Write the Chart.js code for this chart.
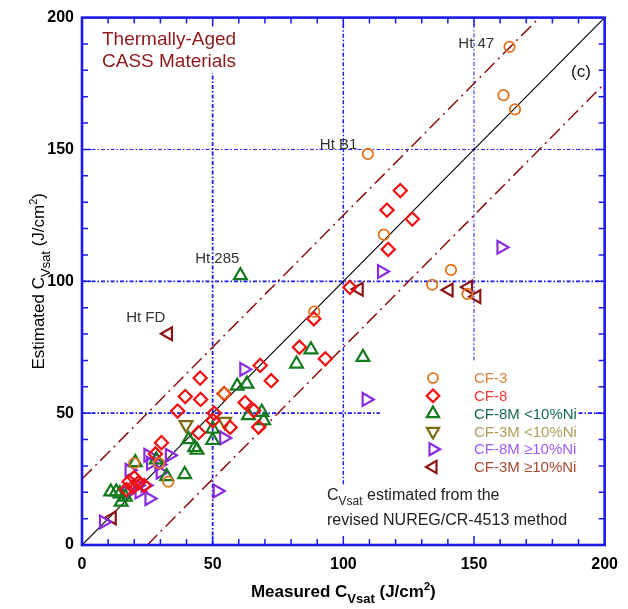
<!DOCTYPE html>
<html>
<head>
<meta charset="utf-8">
<script src="https://cdn.jsdelivr.net/npm/chart.js@4.4.1/dist/chart.umd.min.js"></script>
<style>
  html, body { margin: 0; padding: 0; background: #fff; }
  canvas { display: block; }
</style>
</head>
<body>
<canvas id="chart" width="628" height="609"></canvas>
<script>
// measured vs estimated Cv_sat (J/cm2)
const cf3 = [
  [163.6, 188.9], [161.3, 170.6], [165.7, 165.2], [109.4, 148.3], [115.5, 117.7],
  [141.2, 104.3], [134, 98.7], [147.5, 95.2], [88.9, 88.5], [54.4, 57.5],
  [33, 24], [20, 31], [29.5, 31]
];
const cf8 = [
  [121.8, 134.4], [116.7, 127], [126.4, 123.6], [117.2, 112.1], [102.5, 97.7],
  [88.7, 85.8], [83.2, 75], [93.1, 70.6], [68.2, 68.1], [72.4, 62.3],
  [45.2, 63.3], [39.5, 56.3], [45.4, 55.2], [36.6, 50.8], [54.4, 57.4],
  [62.4, 54], [65.7, 51], [67.6, 44.7], [50.6, 50], [50.1, 47.2],
  [56.7, 44.6], [44.6, 42.6], [30.4, 38.8], [28.1, 34.5], [18, 24],
  [19.5, 22], [17, 21], [20, 25.5], [21.5, 23.5], [23.8, 22.6]
];
const cf8mLow = [
  [60.6, 102.2], [107.5, 71.2], [87.6, 74.1], [82.1, 68.7], [59.4, 60.3],
  [63.1, 61.1], [63.7, 49.1], [68.8, 50.4], [69.5, 47.2], [50, 44],
  [50, 39.7], [40.8, 40], [43.1, 37], [44, 36], [39.3, 26.8],
  [20.4, 31.3], [28.4, 32.3], [32.4, 26], [11, 20.2], [13.1, 20.2],
  [14.5, 19.5], [15, 16.3], [16.6, 18.2]
];
const cf3mLow = [
  [39.8, 45.6], [54.6, 46.8]
];
const cf8mHigh = [
  [160.4, 112.9], [114.7, 103.7], [108.8, 55.2], [62, 66.6], [54.3, 40.6],
  [51.8, 20.5], [25.3, 34], [33.5, 34], [26.3, 31], [29.5, 30.5],
  [30, 27.6], [18.1, 28.3], [24.2, 22.6], [17.2, 19.8], [21.9, 20.1],
  [25.7, 17.6], [8.3, 8.7], [21.3, 22.6]
];
const cf3mHigh = [
  [33, 80.1], [106, 97], [140.4, 96.7], [147.8, 97.8], [151, 94.2], [11.5, 10.3]
];

const seriesNames = ['CF-3', 'CF-8', 'CF-8M <10%Ni', 'CF-3M <10%Ni', 'CF-8M \u226510%Ni', 'CF-3M \u226510%Ni'];
const seriesData = [cf3, cf8, cf8mLow, cf3mLow, cf8mHigh, cf3mHigh];

// reference lines: 1:1 and +/-25 J/cm2 bands
const oneToOne = [[0, 0], [200, 200]];
const upperBand = [[0, 25], [175, 200]];
const lowerBand = [[25, 0], [200, 175]];

const axisTicks = [0, 50, 100, 150, 200];

// labelled heats
const heatLabels = [
  { text: 'Ht 47', x: 144, y: 188.6 },
  { text: 'Ht B1', x: 91, y: 150 },
  { text: 'Ht 285', x: 43.3, y: 107 },
  { text: 'Ht FD', x: 16.9, y: 84.7 }
];

const styles = [
  { pointStyle: 'circle', rotation: 0, radius: 5.2, color: '#e0741e', text: '#e0803c', lw: 1.8 },
  { pointStyle: 'rectRot', rotation: 0, radius: 6.6, color: '#f01010', text: '#f03a3a', lw: 2.2 },
  { pointStyle: 'triangle', rotation: 0, radius: 7.4, color: '#137a1e', text: '#186a4e', lw: 2.2 },
  { pointStyle: 'triangle', rotation: 180, radius: 7.4, color: '#7d6a10', text: '#b09c58', lw: 2.2 },
  { pointStyle: 'triangle', rotation: 90, radius: 7.4, color: '#8a2be2', text: '#a05cf0', lw: 2.2 },
  { pointStyle: 'triangle', rotation: 270, radius: 7.4, color: '#8b1414', text: '#a84a30', lw: 2.2 }
];

const FONT = '"Liberation Sans", Arial, sans-serif';
const toXY = arr => arr.map(p => ({ x: p[0], y: p[1] }));

const datasets = seriesData.map((d, i) => ({
  label: seriesNames[i],
  data: toXY(d),
  pointStyle: styles[i].pointStyle,
  rotation: styles[i].rotation,
  pointRadius: styles[i].radius,
  borderColor: styles[i].color,
  backgroundColor: 'rgba(0,0,0,0)',
  pointBorderWidth: styles[i].lw,
  showLine: false,
  order: 0
}));

datasets.push({
  label: '1:1', data: toXY(oneToOne), showLine: true, pointRadius: 0,
  borderColor: '#000', borderWidth: 1.2, order: 2
});
[upperBand, lowerBand].forEach(b => datasets.push({
  label: 'band', data: toXY(b), showLine: true, pointRadius: 0,
  borderColor: '#8b1010', borderWidth: 1.5, borderDash: [14, 5, 2, 5], order: 1
}));

function drawMarker(ctx, st, x, y) {
  ctx.save();
  ctx.strokeStyle = st.color;
  ctx.lineWidth = st.lw;
  ctx.beginPath();
  const r = st.radius;
  if (st.pointStyle === 'circle') {
    ctx.arc(x, y, r, 0, Math.PI * 2);
  } else if (st.pointStyle === 'rectRot') {
    ctx.moveTo(x, y - r); ctx.lineTo(x + r, y); ctx.lineTo(x, y + r); ctx.lineTo(x - r, y);
    ctx.closePath();
  } else {
    let a = st.rotation * Math.PI / 180;
    for (let k = 0; k < 3; k++) {
      const px = x + Math.sin(a) * r, py = y - Math.cos(a) * r;
      if (k === 0) ctx.moveTo(px, py); else ctx.lineTo(px, py);
      a += Math.PI * 2 / 3;
    }
    ctx.closePath();
  }
  ctx.stroke();
  ctx.restore();
}

// draw text made of parts with sub/superscripts
function richText(ctx, parts, x, y, align) {
  let w = 0;
  parts.forEach(p => { ctx.font = p.font; w += ctx.measureText(p.t).width; });
  let cx = align === 'center' ? x - w / 2 : x;
  parts.forEach(p => {
    ctx.font = p.font;
    ctx.fillText(p.t, cx, y + (p.dy || 0));
    cx += ctx.measureText(p.t).width;
  });
}

const decor = {
  id: 'decor',
  beforeDatasetsDraw(chart) {
    const { ctx, scales: { x, y } } = chart;
    ctx.save();
    ctx.strokeStyle = '#1a1aee';
    ctx.setLineDash([4, 2, 1.5, 2]);
    // [fixed value, from, to, width, vertical?]
    const segs = [
      [50, 0, 179, 1.8, true], [100, 23, 200, 1.5, true], [150, 70, 200, 1, true],
      [50, 0, 114, 1.8, false], [50, 190, 200, 1.8, false],
      [100, 0, 200, 1.8, false], [150, 0, 200, 1, false]
    ];
    segs.forEach(s => {
      ctx.lineWidth = s[3];
      ctx.beginPath();
      if (s[4]) {
        ctx.moveTo(x.getPixelForValue(s[0]), y.getPixelForValue(s[1]));
        ctx.lineTo(x.getPixelForValue(s[0]), y.getPixelForValue(s[2]));
      } else {
        ctx.moveTo(x.getPixelForValue(s[1]), y.getPixelForValue(s[0]));
        ctx.lineTo(x.getPixelForValue(s[2]), y.getPixelForValue(s[0]));
      }
      ctx.stroke();
    });
    ctx.restore();
  },
  afterDraw(chart) {
    const { ctx, chartArea: a, scales: { x, y } } = chart;
    ctx.save();
    // inward ticks
    ctx.strokeStyle = '#1a1aee';
    ctx.lineWidth = 1.5;
    for (let v = 10; v < 200; v += 10) {
      const len = v % 50 === 0 ? 9 : 6;
      const px = x.getPixelForValue(v), py = y.getPixelForValue(v);
      ctx.beginPath();
      ctx.moveTo(px, a.bottom); ctx.lineTo(px, a.bottom - len);
      ctx.moveTo(px, a.top); ctx.lineTo(px, a.top + len);
      ctx.moveTo(a.left, py); ctx.lineTo(a.left + len, py);
      ctx.moveTo(a.right, py); ctx.lineTo(a.right - len, py);
      ctx.stroke();
    }
    // frame
    ctx.lineWidth = 2.6;
    ctx.strokeRect(a.left, a.top, a.right - a.left, a.bottom - a.top);

    // title text
    ctx.fillStyle = '#8b1a1a';
    ctx.font = '19px ' + FONT;
    ctx.textAlign = 'left';
    ctx.textBaseline = 'alphabetic';
    ctx.fillText('Thermally-Aged', 102, 45);
    ctx.fillText('CASS Materials', 102, 67);

    ctx.fillStyle = '#111';
    ctx.font = '17px ' + FONT;
    ctx.fillText('(c)', 571, 77);

    // heat labels
    ctx.fillStyle = '#333';
    ctx.font = '15px ' + FONT;
    heatLabels.forEach(h => {
      ctx.fillText(h.text, x.getPixelForValue(h.x), y.getPixelForValue(h.y));
    });

    // legend
    styles.forEach((st, i) => {
      const ly = 378 + i * 17.8;
      drawMarker(ctx, Object.assign({}, st, { radius: st.radius * 0.95 }), 433, ly);
      ctx.fillStyle = st.text;
      ctx.font = '15px ' + FONT;
      ctx.textBaseline = 'middle';
      ctx.fillText(seriesNames[i], 474, ly + 1);
    });

    // method note
    ctx.textBaseline = 'alphabetic';
    ctx.fillStyle = '#222';
    richText(ctx, [
      { t: 'C', font: '16px ' + FONT },
      { t: 'Vsat', font: '12px ' + FONT, dy: 5 },
      { t: ' estimated from the', font: '16px ' + FONT }
    ], 327, 500, 'left');
    ctx.font = '16px ' + FONT;
    ctx.fillText('revised NUREG/CR-4513 method', 327, 525);

    // axis titles
    ctx.fillStyle = '#000';
    richText(ctx, [
      { t: 'Measured C', font: 'bold 17px ' + FONT },
      { t: 'Vsat', font: 'bold 13px ' + FONT, dy: 6 },
      { t: ' (J/cm', font: 'bold 17px ' + FONT },
      { t: '2', font: 'bold 11px ' + FONT, dy: -7 },
      { t: ')', font: 'bold 17px ' + FONT }
    ], (a.left + a.right) / 2, 597, 'center');

    ctx.save();
    ctx.translate(44, (a.top + a.bottom) / 2);
    ctx.rotate(-Math.PI / 2);
    richText(ctx, [
      { t: 'Estimated C', font: '17px ' + FONT },
      { t: 'Vsat', font: '13px ' + FONT, dy: 6 },
      { t: ' (J/cm', font: '17px ' + FONT },
      { t: '2', font: '11px ' + FONT, dy: -7 },
      { t: ')', font: '17px ' + FONT }
    ], 0, 0, 'center');
    ctx.restore();
    ctx.restore();
  }
};

new Chart(document.getElementById('chart').getContext('2d'), {
  type: 'scatter',
  data: { datasets: datasets },
  options: {
    responsive: false,
    animation: false,
    layout: { padding: { top: 15, right: 18, left: 0, bottom: 0 } },
    scales: {
      x: {
        type: 'linear', min: 0, max: 200,
        afterBuildTicks: s => { s.ticks = axisTicks.map(v => ({ value: v })); },
        ticks: { color: '#000', font: { family: FONT, size: 16, weight: 'bold' }, padding: 10, maxRotation: 0 },
        grid: { display: false, drawTicks: false },
        border: { display: false },
        afterFit: s => { s.height = 64; }
      },
      y: {
        type: 'linear', min: 0, max: 200,
        afterBuildTicks: s => { s.ticks = axisTicks.map(v => ({ value: v })); },
        ticks: { color: '#000', font: { family: FONT, size: 16, weight: 'bold' }, padding: 8 },
        grid: { display: false, drawTicks: false },
        border: { display: false },
        afterFit: s => { s.width = 82; }
      }
    },
    plugins: { legend: { display: false }, tooltip: { enabled: false } }
  },
  plugins: [decor]
});
</script>
</body>
</html>
